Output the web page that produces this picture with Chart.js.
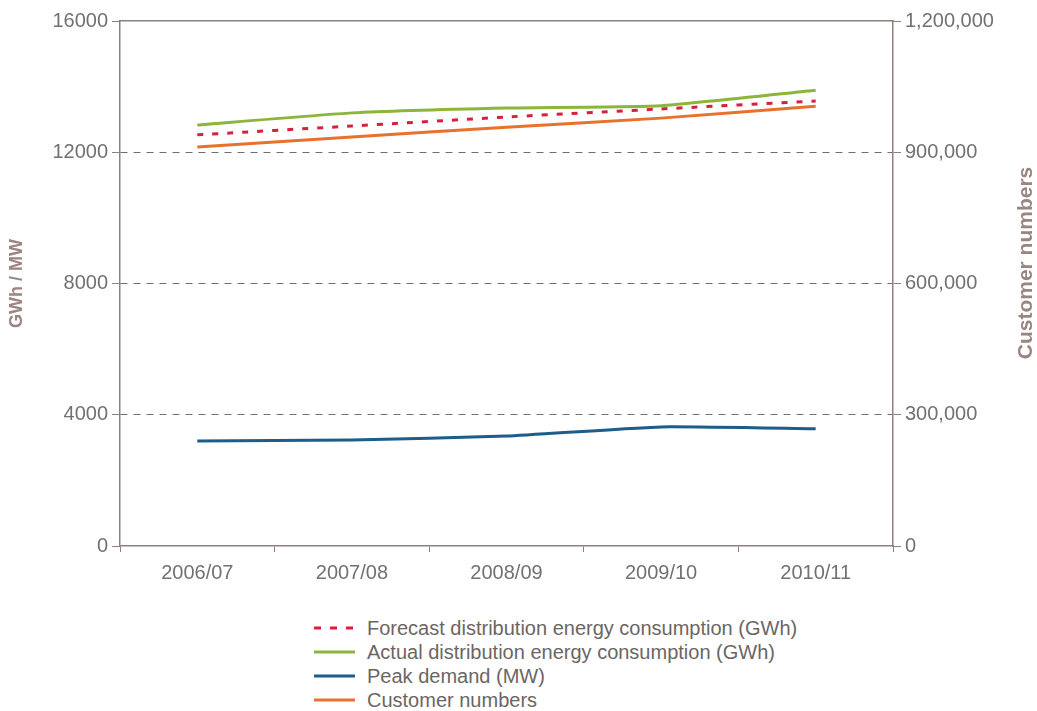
<!DOCTYPE html>
<html>
<head>
<meta charset="utf-8">
<script src="https://cdn.jsdelivr.net/npm/chart.js@4.4.1/dist/chart.umd.min.js"></script>
<style>
body{margin:0;background:#fff;font-family:"Liberation Sans",Arial,sans-serif;}
#wrap{position:relative;width:1037px;height:600px;}
#legend{position:absolute;left:312px;top:616px;margin:0;padding:0;list-style:none;}
#legend li{height:24px;display:flex;align-items:center;font-size:20px;color:#6b6664;}
#legend svg{margin-right:12px;}
</style>
</head>
<body>
<div id="wrap"><canvas id="lineChart"></canvas></div>
<ul id="legend"></ul>
<script>
// data
const years = ['2006/07','2007/08','2008/09','2009/10','2010/11'];
const forecastGWh = [12530, 12800, 13075, 13320, 13560];
const actualGWh = [12830, 13200, 13350, 13420, 13890];
const peakMW = [3200, 3230, 3350, 3630, 3570];
const customers = [912000, 935000, 957000, 978000, 1005000];
const seriesNames = [
  'Forecast distribution energy consumption (GWh)',
  'Actual distribution energy consumption (GWh)',
  'Peak demand (MW)',
  'Customer numbers'
];
const leftTitle = 'GWh / MW';
const rightTitle = 'Customer numbers';

const axisColor = '#8c817c';
const textColor = '#737070';
const titleColor = '#9b8580';

Chart.defaults.font.family = '"Liberation Sans", Arial, sans-serif';
Chart.defaults.font.size = 20;
Chart.defaults.color = textColor;

// right axis title reads bottom-to-top, chart.js would rotate it the other way
const rightTitlePlugin = {
  id: 'rightTitle',
  afterDraw(chart){
    const ctx = chart.ctx;
    ctx.save();
    ctx.translate(1026, 263);
    ctx.rotate(-Math.PI/2);
    ctx.font = 'bold 21px "Liberation Sans", Arial, sans-serif';
    ctx.fillStyle = titleColor;
    ctx.textAlign = 'center';
    ctx.textBaseline = 'middle';
    ctx.fillText(rightTitle, 0, 0);
    ctx.restore();
  }
};

const chart = new Chart(document.getElementById('lineChart').getContext('2d'), {
  type: 'line',
  data: {
    labels: years,
    datasets: [
      {label: seriesNames[0], data: forecastGWh, yAxisID: 'y', borderColor: '#d6213d', borderWidth: 3, borderDash: [6, 9]},
      {label: seriesNames[1], data: actualGWh, yAxisID: 'y', borderColor: '#8cb53a', borderWidth: 3},
      {label: seriesNames[2], data: peakMW, yAxisID: 'y', borderColor: '#1c5d8a', borderWidth: 3},
      {label: seriesNames[3], data: customers, yAxisID: 'y1', borderColor: '#e8722c', borderWidth: 3}
    ]
  },
  options: {
    responsive: true,
    maintainAspectRatio: false,
    animation: false,
    layout: {padding: 0},
    elements: {
      point: {radius: 0, hoverRadius: 0},
      line: {tension: 0.15, fill: false}
    },
    plugins: {legend: {display: false}, tooltip: {enabled: false}},
    scales: {
      x: {
        type: 'category',
        offset: true,
        grid: {drawOnChartArea: false, offset: true, tickLength: 6, tickColor: axisColor},
        border: {color: axisColor, width: 1.5},
        ticks: {padding: 9, color: textColor},
        afterFit: s => { s.height = 54; }
      },
      xTop: {
        type: 'category',
        position: 'top',
        labels: years,
        grid: {display: false},
        ticks: {display: false},
        border: {color: axisColor, width: 1.5},
        afterFit: s => { s.height = 21; }
      },
      y: {
        position: 'left',
        min: 0, max: 16000,
        ticks: {stepSize: 4000, padding: 4, color: textColor, callback: v => String(v)},
        grid: {
          color: c => (c.tick && (c.tick.value === 0 || c.tick.value === 16000)) ? 'rgba(0,0,0,0)' : '#6f6f6f',
          lineWidth: 1,
          tickLength: 8,
          tickColor: axisColor
        },
        border: {color: axisColor, width: 1.5, dash: [7, 6]},
        title: {display: true, text: leftTitle, color: titleColor, font: {size: 18, weight: 'bold'}, padding: {top: 6, bottom: 0}},
        afterFit: s => { s.width = 120; }
      },
      y1: {
        position: 'right',
        min: 0, max: 1200000,
        ticks: {stepSize: 300000, padding: 4, color: textColor, callback: v => v.toLocaleString('en-US')},
        grid: {drawOnChartArea: false, tickLength: 8, tickColor: axisColor},
        border: {color: axisColor, width: 1.5},
        afterFit: s => { s.width = 144; }
      }
    }
  },
  plugins: [rightTitlePlugin]
});

// legend as html, one row per series
const legend = document.getElementById('legend');
chart.data.datasets.forEach(ds => {
  const li = document.createElement('li');
  const dash = ds.borderDash ? '7 9' : 'none';
  li.innerHTML = '<svg width="43" height="6"><line x1="2" y1="3" x2="43" y2="3" stroke="' + ds.borderColor +
    '" stroke-width="3" stroke-dasharray="' + dash + '"/></svg>';
  const span = document.createElement('span');
  span.textContent = ds.label;
  li.appendChild(span);
  legend.appendChild(li);
});
</script>
</body>
</html>
